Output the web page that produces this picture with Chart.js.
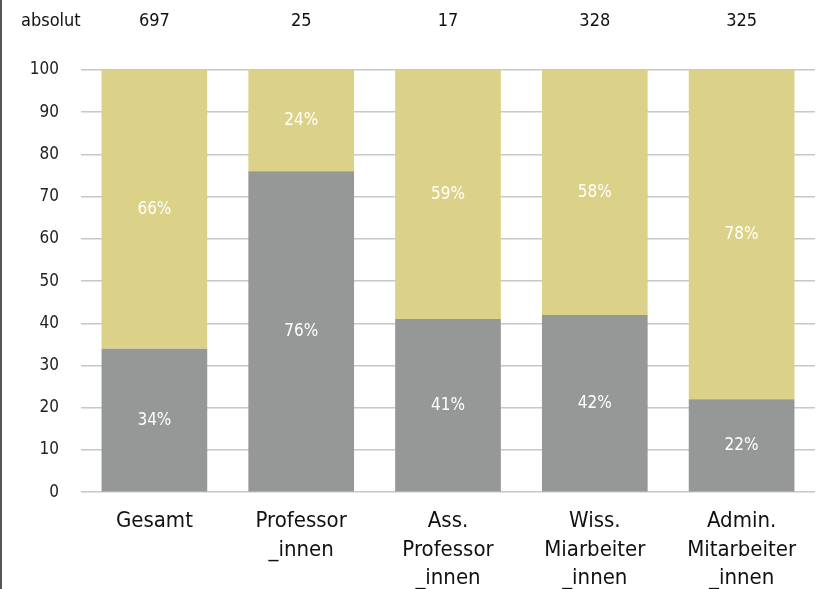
<!DOCTYPE html>
<html>
<head>
<meta charset="utf-8">
<script src="https://cdn.jsdelivr.net/npm/chart.js@4.4.1/dist/chart.umd.min.js"></script>
<style>
html, body { margin: 0; padding: 0; background: #fff; overflow: hidden; }
#wrap { position: absolute; left: 0; top: 0; width: 817px; height: 600px; border-left: 2px solid #555; }
</style>
</head>
<body>
<div id="wrap"><canvas id="myChart"></canvas></div>
<script>
// Kategorien, Anteile (Prozent) und absolute Zahlen
var categories = [
	['Gesamt'],
	['Professor', '_innen'],
	['Ass.', 'Professor', '_innen'],
	['Wiss.', 'Miarbeiter', '_innen'],
	['Admin.', 'Mitarbeiter', '_innen']
];
var grayValues = [34, 76, 41, 42, 22];
var yellowValues = [66, 24, 59, 58, 78];
var absolut = [697, 25, 17, 328, 325];
var yTicks = [0, 10, 20, 30, 40, 50, 60, 70, 80, 90, 100];

var fontName = "'DejaVu Sans Condensed', 'Liberation Sans Narrow', sans-serif";

var labelPlugin = {
	id: 'labels',
	afterDatasetsDraw: function(chart) {
		var ctx = chart.ctx;
		ctx.save();
		ctx.font = '17px ' + fontName;
		ctx.textBaseline = 'middle';
		ctx.textAlign = 'center';
		ctx.fillStyle = '#ffffff';
		var yScale = chart.scales.y;
		chart.data.datasets.forEach(function(ds, di) {
			var meta = chart.getDatasetMeta(di);
			var base = 0;
			meta.data.forEach(function(bar, i) {
				if (di == 1) base = grayValues[i];
				var mid = yScale.getPixelForValue(base + ds.data[i] / 2);
				ctx.fillText(ds.data[i] + '%', bar.x, mid);
			});
		});
		// absolute Zahlen oben
		ctx.fillStyle = '#111111';
		ctx.font = '18px ' + fontName;
		var bars = chart.getDatasetMeta(0).data;
		bars.forEach(function(bar, i) {
			ctx.fillText(String(absolut[i]), bar.x, 21);
		});
		ctx.textAlign = 'left';
		ctx.fillText('absolut', 19, 21);
		ctx.restore();
	}
};

var ctx = document.getElementById('myChart').getContext('2d');
var myChart = new Chart(ctx, {
	type: 'bar',
	data: {
		labels: categories,
		datasets: [{
			data: grayValues,
			backgroundColor: '#959897'
		}, {
			data: yellowValues,
			backgroundColor: '#dcd188'
		}]
	},
	options: {
		responsive: true,
		maintainAspectRatio: false,
		animation: false,
		layout: { padding: { top: 70, right: 4, left: 0, bottom: 0 } },
		plugins: { legend: { display: false }, tooltip: { enabled: false } },
		datasets: { bar: { categoryPercentage: 0.72, barPercentage: 1 } },
		scales: {
			x: {
				stacked: true,
				grid: { display: false },
				border: { display: false },
				ticks: {
					color: '#111',
					padding: 7,
					maxRotation: 0,
					autoSkip: false,
					font: { family: fontName, size: 22, lineHeight: 1.3 }
				}
			},
			y: {
				stacked: true,
				min: 0,
				max: 100,
				afterFit: function(scale) { scale.width = 79; },
				afterBuildTicks: function(scale) {
					scale.ticks = yTicks.map(function(v) { return { value: v }; });
				},
				grid: { color: '#c8c8c8', lineWidth: 1.5, drawTicks: false },
				border: { display: false },
				ticks: {
					color: '#222',
					padding: 22,
					font: { family: fontName, size: 17 }
				}
			}
		}
	},
	plugins: [labelPlugin]
});
</script>
</body>
</html>
